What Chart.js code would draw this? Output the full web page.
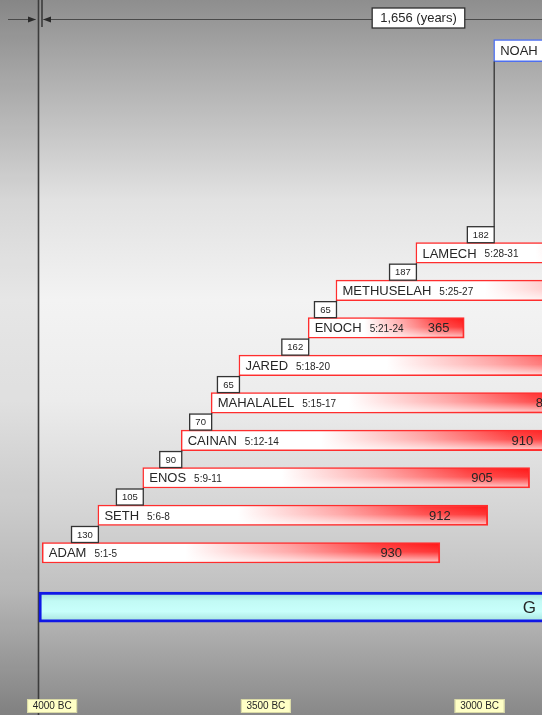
<!DOCTYPE html>
<html>
<head>
<meta charset="utf-8">
<script src="https://cdn.jsdelivr.net/npm/chart.js@4.4.0/dist/chart.umd.min.js"></script>
<style>
  html, body { margin: 0; padding: 0; background: #999; }
  #wrap { width: 542px; height: 715px; position: relative; }
</style>
</head>
<body>
<div id="wrap"><canvas id="timeline"></canvas></div>
<script>
// Genesis 5 patriarchs, years counted from creation (AM)
const names    = ['ADAM', 'SETH', 'ENOS', 'CAINAN', 'MAHALALEL', 'JARED', 'ENOCH', 'METHUSELAH', 'LAMECH', 'NOAH'];
const verses   = ['5:1-5', '5:6-8', '5:9-11', '5:12-14', '5:15-17', '5:18-20', '5:21-24', '5:25-27', '5:28-31', '5:32'];
const bornAM   = [0, 130, 235, 325, 395, 460, 622, 687, 874, 1056];
const lifespan = [930, 912, 905, 910, 895, 962, 365, 969, 777, 950];
// father's age when the next one was born (the little boxes)
const fatherAge = [130, 105, 90, 70, 65, 162, 65, 187, 182];
// lane of each bar, Adam at the bottom
const lanes = [0, 1, 2, 3, 4, 5, 6, 7, 8, 13.4];

// long cyan bar along the bottom
const genesisSpan = [-8, 1750];
const genesisLane = -1.45;
const genesisText = 'G';

const floodAM = 1656;
const originAM = -9;        // vertical line on the left
const creationBC = 4023;    // where the BC labels sit on the AM axis
const tickBC = [4000, 3500, 3000];
const tickLabels = tickBC.map(y => y + ' BC');

const FONT = '"Liberation Sans", Arial, Helvetica, sans-serif';
const TEXT = '#262626';

function redFill(context) {
  const chart = context.chart;
  const xs = chart.scales.x;
  if (!xs || !context.raw) return '#ffffff';
  const a = xs.getPixelForValue(context.raw.x[0]);
  const b = xs.getPixelForValue(context.raw.x[1]);
  if (!isFinite(a) || !isFinite(b)) return '#ffffff';
  const g = chart.ctx.createLinearGradient(a, 0, b, 0);
  g.addColorStop(0, '#ffffff');
  g.addColorStop(0.36, '#ffffff');
  g.addColorStop(0.62, '#ffa0a0');
  g.addColorStop(0.84, '#ff3c3c');
  g.addColorStop(1, '#ff1a1a');
  return g;
}

function cyanFill(context) {
  const chart = context.chart;
  const ys = chart.scales.y;
  if (!ys) return '#c4fbf6';
  const c = ys.getPixelForValue(genesisLane);
  if (!isFinite(c)) return '#c4fbf6';
  const g = chart.ctx.createLinearGradient(0, c - 15, 0, c + 15);
  g.addColorStop(0, '#9edbd5');
  g.addColorStop(0.3, '#c2faf5');
  g.addColorStop(0.65, '#c8fffb');
  g.addColorStop(1, '#a4e1db');
  return g;
}

function barBox(el) {
  const p = el.getProps(['x', 'base', 'y', 'height'], true);
  return {
    left: Math.min(p.x, p.base),
    right: Math.max(p.x, p.base),
    top: p.y - p.height / 2,
    bottom: p.y + p.height / 2,
    cy: p.y
  };
}

const timelinePlugin = {
  id: 'timeline',
  beforeDraw(chart) {
    const { ctx, width, height } = chart;
    const g = ctx.createLinearGradient(0, 0, 0, height);
    g.addColorStop(0, '#8e8e8e');
    g.addColorStop(0.06, '#a1a1a1');
    g.addColorStop(0.28, '#e2e2e2');
    g.addColorStop(0.42, '#f3f3f3');
    g.addColorStop(0.56, '#ececec');
    g.addColorStop(0.72, '#d4d4d4');
    g.addColorStop(0.83, '#c0c0c0');
    g.addColorStop(1, '#888888');
    ctx.save();
    ctx.fillStyle = g;
    ctx.fillRect(0, 0, width, height);
    const x0 = chart.scales.x.getPixelForValue(originAM);
    ctx.fillStyle = 'rgba(0,0,0,0.05)';
    ctx.fillRect(0, 0, x0, height);
    ctx.restore();
  },
  beforeDatasetsDraw(chart) {
    const { ctx, width, height } = chart;
    const x0 = Math.round(chart.scales.x.getPixelForValue(originAM)) + 0.5;
    ctx.save();
    ctx.strokeStyle = '#3c3c3c';
    ctx.lineWidth = 1.6;
    ctx.beginPath();
    ctx.moveTo(x0, 0); ctx.lineTo(x0, height);
    ctx.moveTo(x0 + 3.5, 0); ctx.lineTo(x0 + 3.5, 27);
    ctx.stroke();

    // dimension line for the years to the flood
    const ly = 19.5;
    ctx.strokeStyle = '#4a4a4a';
    ctx.lineWidth = 1.2;
    ctx.beginPath();
    ctx.moveTo(8, ly); ctx.lineTo(x0 - 3, ly);
    ctx.moveTo(x0 + 5, ly); ctx.lineTo(width, ly);
    ctx.stroke();
    ctx.fillStyle = '#2a2a2a';
    ctx.beginPath();
    ctx.moveTo(x0 - 2.5, ly); ctx.lineTo(x0 - 10.5, ly - 3); ctx.lineTo(x0 - 10.5, ly + 3); ctx.closePath();
    ctx.moveTo(x0 + 4.5, ly); ctx.lineTo(x0 + 12.5, ly - 3); ctx.lineTo(x0 + 12.5, ly + 3); ctx.closePath();
    ctx.fill();
    ctx.restore();
  },
  afterDatasetsDraw(chart) {
    const { ctx, height } = chart;
    const xs = chart.scales.x;
    const red = chart.getDatasetMeta(0).data.map(barBox);
    const noah = chart.getDatasetMeta(1).data.map(barBox);
    const bars = red.concat(noah);
    ctx.save();

    // soft white sheen on the lower half of the red bars
    red.forEach(b => {
      const t = b.top + 1.5, btm = b.bottom - 1.5;
      const vg = ctx.createLinearGradient(0, t, 0, btm);
      vg.addColorStop(0, 'rgba(255,255,255,0)');
      vg.addColorStop(0.45, 'rgba(255,255,255,0.12)');
      vg.addColorStop(1, 'rgba(255,255,255,0.7)');
      ctx.fillStyle = vg;
      ctx.fillRect(b.left + 1.5, t, b.right - b.left - 3, btm - t);
    });

    // names, verses and life spans
    ctx.textBaseline = 'middle';
    bars.forEach((b, i) => {
      ctx.fillStyle = TEXT;
      ctx.textAlign = 'left';
      ctx.font = '13px ' + FONT;
      const nx = b.left + 6.5;
      ctx.fillText(names[i], nx, b.cy + 1);
      const nw = ctx.measureText(names[i]).width;
      ctx.font = '10px ' + FONT;
      ctx.fillText(verses[i], nx + nw + 8, b.cy + 1.5);
      if (i < red.length) {
        ctx.font = '13px ' + FONT;
        ctx.textAlign = 'right';
        const at = xs.getPixelForValue(bornAM[i] + lifespan[i] * 0.905);
        ctx.fillText(String(lifespan[i]), at, b.cy + 1);
      }
    });

    // father's age boxes and connectors
    fatherAge.forEach((age, i) => {
      const parent = bars[i], child = bars[i + 1];
      const label = String(age);
      ctx.font = '9.5px ' + FONT;
      const w = Math.max(ctx.measureText(label).width + 11, 22);
      const h = 16;
      const right = child.left + 0.5;
      const bottom = parent.top;
      ctx.fillStyle = '#ffffff';
      ctx.fillRect(right - w, bottom - h, w, h);
      ctx.strokeStyle = '#333333';
      ctx.lineWidth = 1.3;
      ctx.strokeRect(right - w, bottom - h, w, h);
      ctx.beginPath();
      ctx.moveTo(right, bottom - h);
      ctx.lineTo(right, child.bottom);
      ctx.stroke();
      ctx.fillStyle = TEXT;
      ctx.textAlign = 'center';
      ctx.fillText(label, right - w / 2, bottom - h / 2 + 0.5);
    });

    // the G on the cyan bar
    const gb = chart.getDatasetMeta(2).data.map(barBox)[0];
    ctx.font = '17px ' + FONT;
    ctx.textAlign = 'left';
    ctx.fillStyle = TEXT;
    ctx.fillText(genesisText, xs.getPixelForValue(1124), gb.cy + 1);

    // BC labels along the bottom
    ctx.font = '10px ' + FONT;
    tickBC.forEach((bc, i) => {
      const cx = xs.getPixelForValue(creationBC - bc);
      const w = ctx.measureText(tickLabels[i]).width + 11;
      const top = height - 16, h = 14;
      ctx.fillStyle = '#ffffc6';
      ctx.fillRect(cx - w / 2, top, w, h);
      ctx.strokeStyle = '#d9d9a6';
      ctx.lineWidth = 1;
      ctx.strokeRect(cx - w / 2 + 0.5, top + 0.5, w - 1, h - 1);
      ctx.fillStyle = TEXT;
      ctx.textAlign = 'center';
      ctx.fillText(tickLabels[i], cx, top + h / 2 + 0.5);
    });

    // years-to-flood label box
    const spanLabel = floodAM.toLocaleString('en-US') + ' (years)';
    ctx.font = '13px ' + FONT;
    const sw = ctx.measureText(spanLabel).width + 16;
    const sx = xs.getPixelForValue(880);
    ctx.fillStyle = '#ffffff';
    ctx.fillRect(sx - sw / 2, 8, sw, 20);
    ctx.strokeStyle = '#2e2e2e';
    ctx.lineWidth = 1.3;
    ctx.strokeRect(sx - sw / 2, 8, sw, 20);
    ctx.fillStyle = TEXT;
    ctx.textAlign = 'center';
    ctx.fillText(spanLabel, sx, 18.5);
    ctx.restore();
  }
};

const n = names.length;
const redData = [];
for (let i = 0; i < n - 1; i++) {
  redData.push({ x: [bornAM[i], bornAM[i] + lifespan[i]], y: lanes[i] });
}
const noahData = [{ x: [bornAM[n - 1], bornAM[n - 1] + lifespan[n - 1]], y: lanes[n - 1] }];

new Chart(document.getElementById('timeline'), {
  type: 'bar',
  data: {
    datasets: [
      {
        label: 'Patriarchs',
        data: redData,
        backgroundColor: redFill,
        borderColor: '#ff2e2e',
        borderWidth: 1.5,
        borderSkipped: false,
        barThickness: 20.5,
        grouped: false
      },
      {
        label: 'Noah',
        data: noahData,
        backgroundColor: '#ffffff',
        borderColor: '#4d6ff0',
        borderWidth: 1.5,
        borderSkipped: false,
        barThickness: 22,
        grouped: false
      },
      {
        label: 'Genesis',
        data: [{ x: genesisSpan, y: genesisLane }],
        backgroundColor: cyanFill,
        borderColor: '#1018e6',
        borderWidth: 3,
        borderSkipped: false,
        barThickness: 30,
        grouped: false
      }
    ]
  },
  options: {
    indexAxis: 'y',
    responsive: true,
    maintainAspectRatio: false,
    animation: false,
    layout: { padding: 0 },
    plugins: {
      legend: { display: false },
      tooltip: { enabled: false },
      title: { display: false }
    },
    scales: {
      x: { type: 'linear', min: -99, max: 1169, display: false },
      y: { type: 'linear', min: -4.33, max: 14.75, offset: false, display: false }
    }
  },
  plugins: [timelinePlugin]
});
</script>
</body>
</html>
